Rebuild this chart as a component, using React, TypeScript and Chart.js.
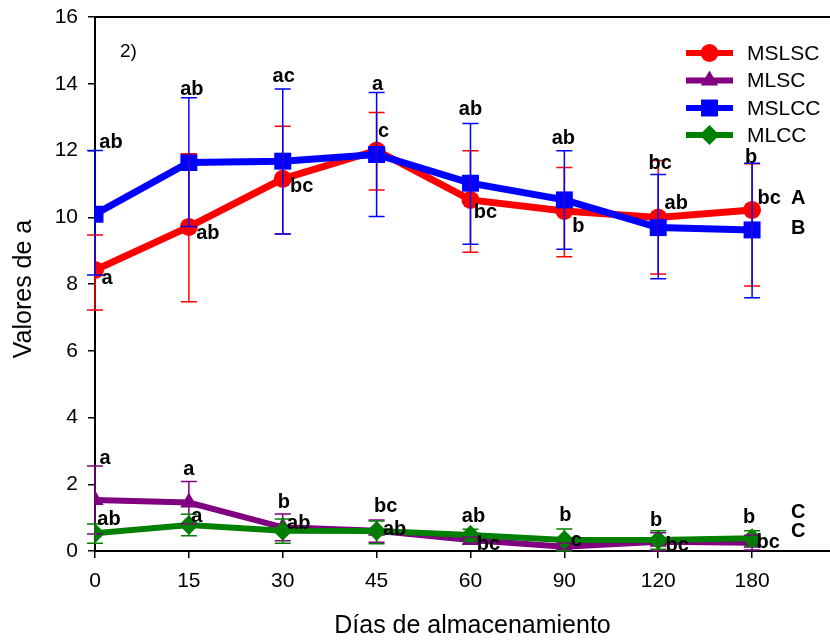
import React, { useEffect, useRef } from 'react';
import { Chart, registerables } from 'chart.js';

Chart.register(...registerables);

// Storage days (categories) and y-axis ticks
const days = ['0', '15', '30', '45', '60', '90', '120', '180'];
const yTicks = [0, 2, 4, 6, 8, 10, 12, 14, 16];

// MSLSC
const mslsc = [8.42, 9.71, 11.15, 12.0, 10.52, 10.19, 9.99, 10.22];
const mslscHigh = [9.47, 11.9, 12.73, 13.14, 11.99, 11.49, 11.7, 11.6];
const mslscLow = [7.22, 7.47, 9.5, 10.82, 8.95, 8.82, 8.3, 7.94];
const mslscLetters = ['a', 'ab', 'bc', 'c', 'bc', 'b', 'ab', 'bc'];

// MLSC
const mlsc = [1.53, 1.45, 0.71, 0.61, 0.33, 0.13, 0.28, 0.25];
const mlscHigh = [2.55, 2.08, 1.11, 0.93, 0.42, 0.23, 0.55, 0.47];
const mlscLow = [0.51, 0.82, 0.31, 0.26, 0.22, 0.03, 0.01, 0.03];
const mlscLetters = ['a', 'a', 'b', 'bc', 'bc', 'c', 'bc', 'bc'];

// MSLCC
const mslcc = [10.09, 11.64, 11.68, 11.88, 11.02, 10.52, 9.69, 9.62];
const mslccHigh = [12.0, 13.58, 13.84, 13.74, 12.81, 11.99, 11.28, 11.62];
const mslccLow = [8.27, 9.72, 9.5, 10.02, 9.19, 9.04, 8.16, 7.59];
const mslccLetters = ['ab', 'ab', 'ac', 'a', 'ab', 'ab', 'bc', 'b'];

// MLCC
const mlcc = [0.53, 0.78, 0.61, 0.6, 0.48, 0.33, 0.33, 0.38];
const mlccHigh = [0.81, 1.1, 0.96, 0.9, 0.65, 0.66, 0.61, 0.61];
const mlccLow = [0.23, 0.46, 0.23, 0.22, 0.3, 0.0, 0.05, 0.15];
const mlccLetters = ['ab', 'a', 'ab', 'ab', 'ab', 'b', 'b', 'b'];

// Overall group letters and the y value where each sits
const groupLetters = ['A', 'B', 'C', 'C'];
const groupLetterY = [10.55, 9.65, 1.16, 0.59];

const seriesNames = ['MSLSC', 'MLSC', 'MSLCC', 'MLCC'];
const colors = ['#ff0000', '#800080', '#0000ff', '#008000'];
const pointStyles = ['circle', 'triangle', 'rect', 'rectRot'];
const pointSizes = [9, 10, 12, 10];
const lineWidths = [7, 6, 7, 6];

const FONT = 'Arial, "Liberation Sans", sans-serif';

// Letter placement per series: [dx, dy, anchor] where anchor 'p' = point, 'h' = upper error cap
const redPlace: [number, number, string][] = [
  [12, 9, 'p'], [19, 7, 'p'], [19, 8, 'p'], [7, -19, 'p'], [15, 13, 'p'], [14, 16, 'p'], [18, -14, 'p'], [17, -11, 'p'],
];
const purplePlace: [number, number, string][] = [
  [10, -7, 'h'], [0, -12, 'h'], [1, -11, 'h'], [9, -13, 'h'], [18, 4, 'p'], [12, -6, 'p'], [19, 4, 'p'], [16, 0, 'p'],
];
const bluePlace: [number, number, string][] = [
  [16, -8, 'h'], [3, -8, 'h'], [1, -13, 'h'], [1, -8, 'h'], [0, -14, 'h'], [-1, -12, 'h'], [2, -11, 'h'], [-1, -6, 'h'],
];
const greenPlace: [number, number, string][] = [
  [14, -14, 'p'], [8, -8, 'p'], [16, -7, 'p'], [18, -1, 'p'], [3, -18, 'p'], [1, -25, 'p'], [-2, -20, 'p'], [-3, -21, 'p'],
];

const values = [mslsc, mlsc, mslcc, mlcc];
const highs = [mslscHigh, mlscHigh, mslccHigh, mlccHigh];
const lows = [mslscLow, mlscLow, mslccLow, mlccLow];
const letters = [mslscLetters, mlscLetters, mslccLetters, mlccLetters];
const places = [redPlace, purplePlace, bluePlace, greenPlace];

function drawMarker(ctx: CanvasRenderingContext2D, style: string, x: number, y: number, r: number) {
  ctx.beginPath();
  if (style === 'circle') {
    ctx.arc(x, y, r, 0, Math.PI * 2);
  } else if (style === 'triangle') {
    ctx.moveTo(x, y - r);
    ctx.lineTo(x + r * 0.866, y + r * 0.5);
    ctx.lineTo(x - r * 0.866, y + r * 0.5);
    ctx.closePath();
  } else if (style === 'rect') {
    const s = r * Math.SQRT1_2;
    ctx.rect(x - s, y - s, 2 * s, 2 * s);
  } else {
    ctx.moveTo(x - r, y);
    ctx.lineTo(x, y - r);
    ctx.lineTo(x + r, y);
    ctx.lineTo(x, y + r);
    ctx.closePath();
  }
  ctx.fill();
}

const VIEW_W = 830;

const overlayPlugin = {
  id: 'overlay',
  afterDatasetsDraw(chart: any) {
    const { ctx, chartArea, scales } = chart;
    const xs = scales.x;
    const ys = scales.y;
    ctx.save();

    // top frame line
    ctx.strokeStyle = '#000';
    ctx.lineWidth = 2;
    ctx.beginPath();
    ctx.moveTo(chartArea.left, chartArea.top);
    ctx.lineTo(chartArea.right, chartArea.top);
    ctx.stroke();

    // error bars
    ctx.lineWidth = 1.5;
    for (let s = 0; s < 4; s++) {
      ctx.strokeStyle = colors[s];
      for (let i = 0; i < days.length; i++) {
        const x = xs.getPixelForValue(i);
        const yh = ys.getPixelForValue(highs[s][i]);
        const yl = ys.getPixelForValue(lows[s][i]);
        ctx.beginPath();
        ctx.moveTo(x, yh);
        ctx.lineTo(x, yl);
        ctx.moveTo(x - 8, yh);
        ctx.lineTo(x + 8, yh);
        ctx.moveTo(x - 8, yl);
        ctx.lineTo(x + 8, yl);
        ctx.stroke();
      }
    }

    // significance letters
    ctx.fillStyle = '#000';
    ctx.font = `bold 20px ${FONT}`;
    ctx.textAlign = 'center';
    ctx.textBaseline = 'middle';
    for (let s = 0; s < 4; s++) {
      for (let i = 0; i < days.length; i++) {
        const [dx, dy, anchor] = places[s][i];
        const x = xs.getPixelForValue(i);
        const y = ys.getPixelForValue(anchor === 'h' ? highs[s][i] : values[s][i]);
        ctx.fillText(letters[s][i], x + dx, y + dy);
      }
    }
    ctx.textAlign = 'left';
    const lastX = xs.getPixelForValue(days.length - 1);
    groupLetters.forEach((g, k) => {
      ctx.fillText(g, lastX + 39, ys.getPixelForValue(groupLetterY[k]));
    });

    // panel number
    ctx.font = `19px ${FONT}`;
    ctx.fillText('2)', chartArea.left + 25, chartArea.top + 35);

    // legend
    const lx0 = VIEW_W - 144;
    const rowY = [chartArea.top + 36, chartArea.top + 63.5, chartArea.top + 91, chartArea.top + 118];
    ctx.font = `21px ${FONT}`;
    for (let s = 0; s < 4; s++) {
      const y = rowY[s];
      ctx.strokeStyle = colors[s];
      ctx.fillStyle = colors[s];
      ctx.lineWidth = 6;
      ctx.beginPath();
      ctx.moveTo(lx0, y);
      ctx.lineTo(lx0 + 47, y);
      ctx.stroke();
      drawMarker(ctx, pointStyles[s], lx0 + 23.5, y, pointSizes[s]);
      ctx.fillStyle = '#000';
      ctx.fillText(seriesNames[s], lx0 + 61, y + 1);
    }

    // axis titles
    ctx.font = `25px ${FONT}`;
    ctx.textAlign = 'center';
    ctx.fillText('Días de almacenamiento', (chartArea.left + VIEW_W) / 2 + 10, 626);
    ctx.save();
    ctx.translate(24, (chartArea.top + chartArea.bottom) / 2 + 5);
    ctx.rotate(-Math.PI / 2);
    ctx.fillText('Valores de a', 0, 0);
    ctx.restore();

    ctx.restore();
  },
};

export default function App() {
  const canvasRef = useRef<HTMLCanvasElement | null>(null);

  useEffect(() => {
    const canvas = canvasRef.current;
    if (!canvas) return;

    const datasets = seriesNames.map((name, s) => ({
      label: name,
      data: values[s].map((v, i) => ({ x: i, y: v })),
      borderColor: colors[s],
      backgroundColor: colors[s],
      borderWidth: lineWidths[s],
      pointStyle: pointStyles[s] as any,
      pointRadius: pointSizes[s],
      pointBorderWidth: 0,
      pointBackgroundColor: colors[s],
      tension: 0,
      order: 4 - s,
    }));

    const tickFont = { family: FONT, size: 21 };

    const chart = new Chart(canvas, {
      type: 'line',
      data: { datasets },
      options: {
        animation: false,
        responsive: false,
        maintainAspectRatio: false,
        layout: { padding: { top: 17, left: 0, right: 0, bottom: 0 } },
        plugins: {
          legend: { display: false },
          tooltip: { enabled: false },
        },
        scales: {
          x: {
            type: 'linear',
            min: 0,
            max: 7.83,
            afterBuildTicks: (scale: any) => {
              scale.ticks = days.map((_, i) => ({ value: i }));
            },
            afterFit: (scale: any) => {
              scale.height = 89;
            },
            ticks: {
              callback: (v: any) => days[v as number],
              font: tickFont,
              color: '#000',
              padding: 11,
              maxRotation: 0,
              autoSkip: false,
            },
            grid: {
              drawOnChartArea: false,
              drawTicks: true,
              tickLength: 7,
              color: '#000',
              lineWidth: 1.5,
            },
            border: { display: true, color: '#000', width: 2 },
          },
          y: {
            min: 0,
            max: 16,
            afterBuildTicks: (scale: any) => {
              scale.ticks = yTicks.map((v) => ({ value: v }));
            },
            afterFit: (scale: any) => {
              scale.width = 95;
              scale.paddingTop = 0;
              scale.paddingBottom = 0;
            },
            ticks: {
              font: tickFont,
              color: '#000',
              padding: 10,
            },
            grid: {
              drawOnChartArea: false,
              drawTicks: true,
              tickLength: 7,
              color: '#000',
              lineWidth: 1.5,
            },
            border: { display: true, color: '#000', width: 2 },
          },
        },
      },
      plugins: [overlayPlugin],
    });

    return () => chart.destroy();
  }, []);

  // The canvas is a bit wider than the view so the plot runs out to the right edge.
  return (
    <div style={{ position: 'absolute', left: 0, top: 0, width: VIEW_W, height: 640, overflow: 'hidden', background: '#fff' }}>
      <canvas ref={canvasRef} width={842} height={640} style={{ width: 842, height: 640, display: 'block' }} />
    </div>
  );
}
